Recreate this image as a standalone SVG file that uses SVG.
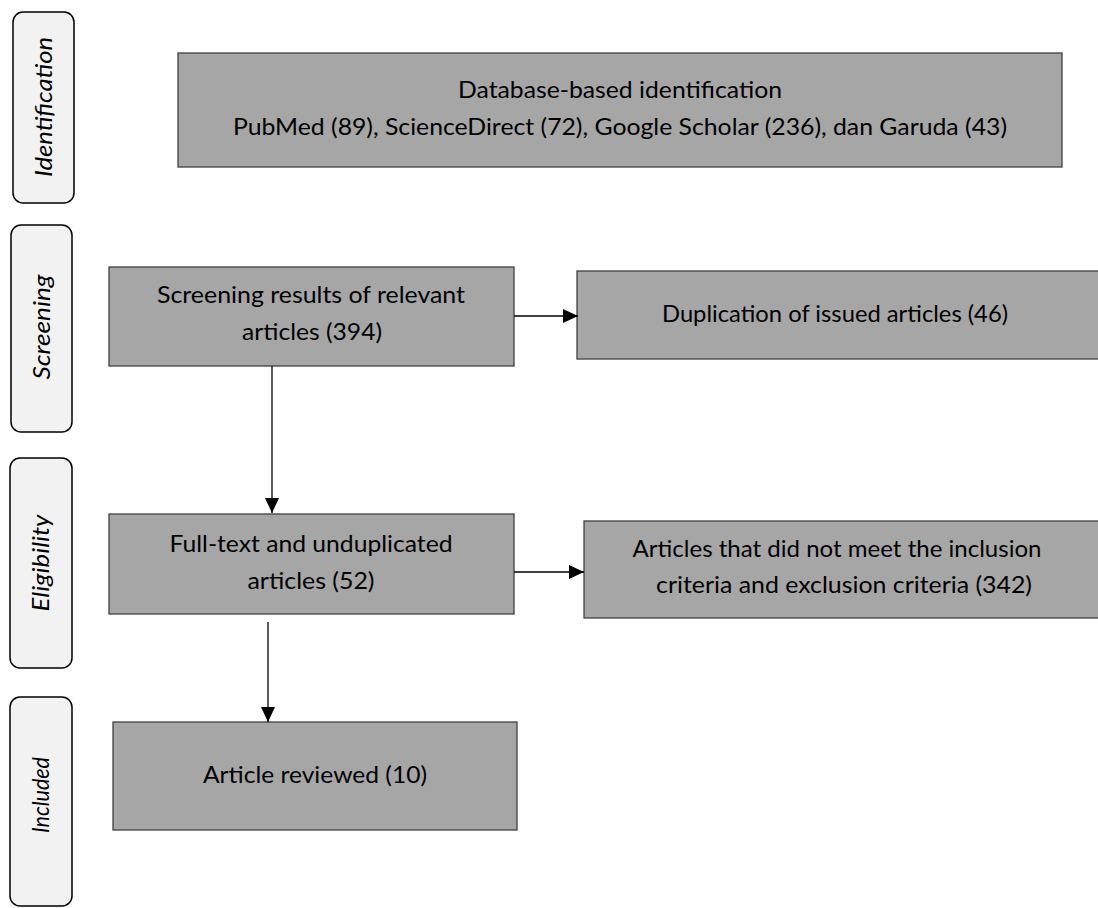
<svg xmlns="http://www.w3.org/2000/svg" width="1098" height="908" viewBox="0 0 1098 908">
<defs>
<style>
.box{fill:#a6a6a6;stroke:#404040;stroke-width:1.3}
.lab{fill:#f2f2f2;stroke:#000;stroke-width:1.5}
.t{font-family:Lato,"Open Sans","Liberation Sans",sans-serif;font-size:23.5px;fill:#000;text-anchor:middle}
.v{font-family:Lato,"Open Sans","Liberation Sans",sans-serif;font-size:24px;font-style:italic;fill:#000;text-anchor:middle}
.c{stroke:#000;stroke-width:1.3;fill:none}
</style>
<marker id="ah" markerUnits="userSpaceOnUse" markerWidth="16" markerHeight="16" refX="15" refY="7" orient="auto">
<path d="M0,0 L15,7 L0,14 z" fill="#000"/>
</marker>
</defs>
<rect width="1098" height="908" fill="#fff"/>
<g id="label-identification">
<rect class="lab" x="13" y="12" width="61" height="191" rx="10"/>
<text class="v" transform="translate(52,107) rotate(-90)" textLength="140" lengthAdjust="spacingAndGlyphs">Identification</text>
</g>
<g id="label-screening">
<rect class="lab" x="11" y="225" width="61" height="207" rx="10"/>
<text class="v" transform="translate(50,327) rotate(-90)" textLength="105" lengthAdjust="spacingAndGlyphs">Screening</text>
</g>
<g id="label-eligibility">
<rect class="lab" x="10" y="458" width="62" height="210" rx="10"/>
<text class="v" transform="translate(49,563) rotate(-90)" textLength="97" lengthAdjust="spacingAndGlyphs">Eligibility</text>
</g>
<g id="label-included">
<rect class="lab" x="10" y="697" width="62" height="209" rx="10"/>
<text class="v" transform="translate(49,795) rotate(-90)" textLength="76" lengthAdjust="spacingAndGlyphs">Included</text>
</g>
<g id="node-identification">
<rect class="box" x="178" y="53" width="884" height="114"/>
<text class="t" x="620" y="98" textLength="324" lengthAdjust="spacingAndGlyphs">Database-based identification</text>
<text class="t" x="620" y="135" textLength="774" lengthAdjust="spacingAndGlyphs">PubMed (89), ScienceDirect (72), Google Scholar (236), dan Garuda (43)</text>
</g>
<g id="node-screening">
<rect class="box" x="109" y="267" width="405" height="99"/>
<text class="t" x="311" y="303" textLength="308" lengthAdjust="spacingAndGlyphs">Screening results of relevant</text>
<text class="t" x="312" y="340" textLength="140" lengthAdjust="spacingAndGlyphs">articles (394)</text>
</g>
<g id="node-duplication">
<rect class="box" x="577" y="271" width="530" height="88"/>
<text class="t" x="835" y="322" textLength="346" lengthAdjust="spacingAndGlyphs">Duplication of issued articles (46)</text>
</g>
<g id="node-fulltext">
<rect class="box" x="109" y="514" width="405" height="100"/>
<text class="t" x="311" y="552" textLength="283" lengthAdjust="spacingAndGlyphs">Full-text and unduplicated</text>
<text class="t" x="311" y="589" textLength="127" lengthAdjust="spacingAndGlyphs">articles (52)</text>
</g>
<g id="node-excluded">
<rect class="box" x="584" y="521" width="530" height="97"/>
<text class="t" x="837" y="557" textLength="409" lengthAdjust="spacingAndGlyphs">Articles that did not meet the inclusion</text>
<text class="t" x="844" y="593" textLength="376" lengthAdjust="spacingAndGlyphs">criteria and exclusion criteria (342)</text>
</g>
<g id="node-included">
<rect class="box" x="113" y="722" width="404" height="108"/>
<text class="t" x="315" y="783" textLength="224" lengthAdjust="spacingAndGlyphs">Article reviewed (10)</text>
</g>
<g id="connectors">
<line class="c" x1="514" y1="316" x2="578" y2="316" marker-end="url(#ah)"/>
<line class="c" x1="272" y1="366" x2="272" y2="513" marker-end="url(#ah)"/>
<line class="c" x1="514" y1="572" x2="584" y2="572" marker-end="url(#ah)"/>
<line class="c" x1="268" y1="622" x2="268" y2="722" marker-end="url(#ah)"/>
</g>
</svg>
